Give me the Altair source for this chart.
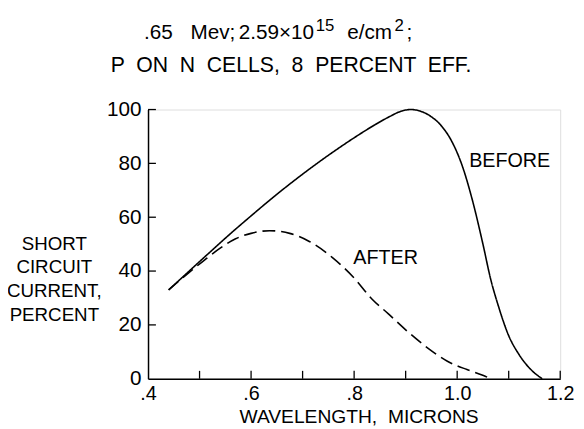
import altair as alt
import pandas as pd

# ---- data ----
before_x = [0.44, 0.48, 0.52, 0.56, 0.60, 0.65, 0.70, 0.75, 0.80, 0.84, 0.87, 0.89, 0.91,
            0.93, 0.95, 0.97, 0.99, 1.01, 1.03, 1.05, 1.065, 1.08, 1.10, 1.12, 1.14, 1.165]
before_y = [33, 40, 47, 53.9, 60.5, 68.5, 76, 83, 89.5, 94.3, 97.5, 99.3, 100,
            99.3, 97.3, 93.8, 88, 79, 66, 50, 37, 27, 16, 9, 4, 0]
after_x = [0.44, 0.48, 0.509, 0.54, 0.57, 0.60, 0.636, 0.675, 0.713, 0.758, 0.802,
           0.834, 0.866, 0.904, 0.943, 0.981, 1.019, 1.051, 1.065]
after_y = [33, 39.5, 44, 48.5, 52, 54, 55, 54, 51, 45, 37,
           29.7, 24.2, 17.5, 11.4, 6.5, 3.4, 1.2, 0]

x_label_values = [0.4, 0.6, 0.8, 1.0, 1.2]
x_tick_marks = [0.5, 0.6, 0.7, 0.8, 0.9, 1.0, 1.1, 1.2]
y_label_values = [0, 20, 40, 60, 80, 100]
y_tick_marks = [20, 40, 60, 80, 100]

NB = "\u00a0"
title_line2 = f"P {NB}ON {NB}N {NB}CELLS, {NB}8 {NB}PERCENT {NB}EFF."
y_title_lines = ["SHORT", "CIRCUIT", "CURRENT,", "PERCENT"]
x_title = f"WAVELENGTH, {NB}MICRONS"

FONT = "Liberation Sans"
W, H = 418, 273

df = pd.concat([
    pd.DataFrame({"wl": before_x, "pct": before_y, "series": "BEFORE"}),
    pd.DataFrame({"wl": after_x, "pct": after_y, "series": "AFTER"}),
])

x_scale = alt.Scale(domain=[0.4, 1.2], nice=False, zero=False)
y_scale = alt.Scale(domain=[0, 100], nice=False)

x_axis = alt.Axis(values=x_label_values,
                  labelExpr="datum.value < 1 ? substring(format(datum.value, '.1f'), 1) : format(datum.value, '.1f')",
                  ticks=False, tickSize=0, grid=False, domainColor="black", domainWidth=1.5,
                  labelFont=FONT, labelFontSize=20, labelColor="black", labelPadding=5,
                  labelFlush=False, title=None)
y_axis = alt.Axis(values=y_label_values, ticks=False, tickSize=0, grid=False,
                  domainColor="black", domainWidth=1.5,
                  labelFont=FONT, labelFontSize=21, labelColor="black", labelPadding=7,
                  labelFlush=False, title=None)

lines = alt.Chart(df).mark_line(color="black", strokeWidth=1.6, interpolate="monotone").encode(
    x=alt.X("wl:Q", scale=x_scale, axis=x_axis),
    y=alt.Y("pct:Q", scale=y_scale, axis=y_axis),
    strokeDash=alt.StrokeDash("series:N",
                              scale=alt.Scale(domain=["BEFORE", "AFTER"], range=[[1, 0], [13, 6]]),
                              legend=None),
)

xt = alt.Chart(pd.DataFrame({"t": x_tick_marks})).mark_rule(color="black", strokeWidth=1.3).encode(
    x=alt.X("t:Q", scale=x_scale), y=alt.value(H), y2=alt.value(H - 8))
yt = alt.Chart(pd.DataFrame({"t": y_tick_marks})).mark_rule(color="black", strokeWidth=1.3).encode(
    y=alt.Y("t:Q", scale=y_scale), x=alt.value(0), x2=alt.value(8))

one = pd.DataFrame({"a": [0]})


def txt(text, x, y, size=21, align="left", baseline="alphabetic", **kw):
    return alt.Chart(one).mark_text(text=text, font=FONT, fontSize=size, color="black",
                                    align=align, baseline=baseline, **kw).encode(
        x=alt.value(x), y=alt.value(y))


def dtxt(text, xv, yv, size=20):
    return alt.Chart(one).mark_text(text=text, font=FONT, fontSize=size, color="black",
                                    align="center", baseline="middle").encode(
        x=alt.X(datum=xv, scale=x_scale), y=alt.Y(datum=yv, scale=y_scale))


# title pieces (plot-relative pixels: page x - 150, page y - 108)
L1 = 36 - 108
title_parts = [
    txt(".65", 146 - 150, L1),
    txt("Mev;", 193 - 150, L1),
    txt("2.59\u00d710", 242 - 150, L1),
    txt("15", 320 - 150, L1 - 8, size=17),
    txt("e/cm", 352 - 150, L1),
    txt("2", 400 - 150, L1 - 8, size=17),
    txt(";", 412 - 150, L1),
    txt(title_line2, 295 - 150, 70 - 108, align="center", size=21.5),
    txt(y_title_lines, 55 - 150, 244 - 108, size=19, align="center", baseline="middle", lineHeight=24),
    txt(x_title, 364 - 150, 426 - 108, size=19.5, align="center"),
]

labels = [dtxt("BEFORE", 1.102, 81), dtxt("AFTER", 0.861, 45)]

chart = alt.layer(lines, xt, yt, *labels, *title_parts).properties(
    width=W, height=H,
    autosize=alt.AutoSizeParams(type="none"),
    padding={"left": 142, "top": 100, "right": 16, "bottom": 48},
).configure_view(stroke=None).configure(background="white")

chart.save("out.html", embed_options={"renderer": "svg", "actions": False})
